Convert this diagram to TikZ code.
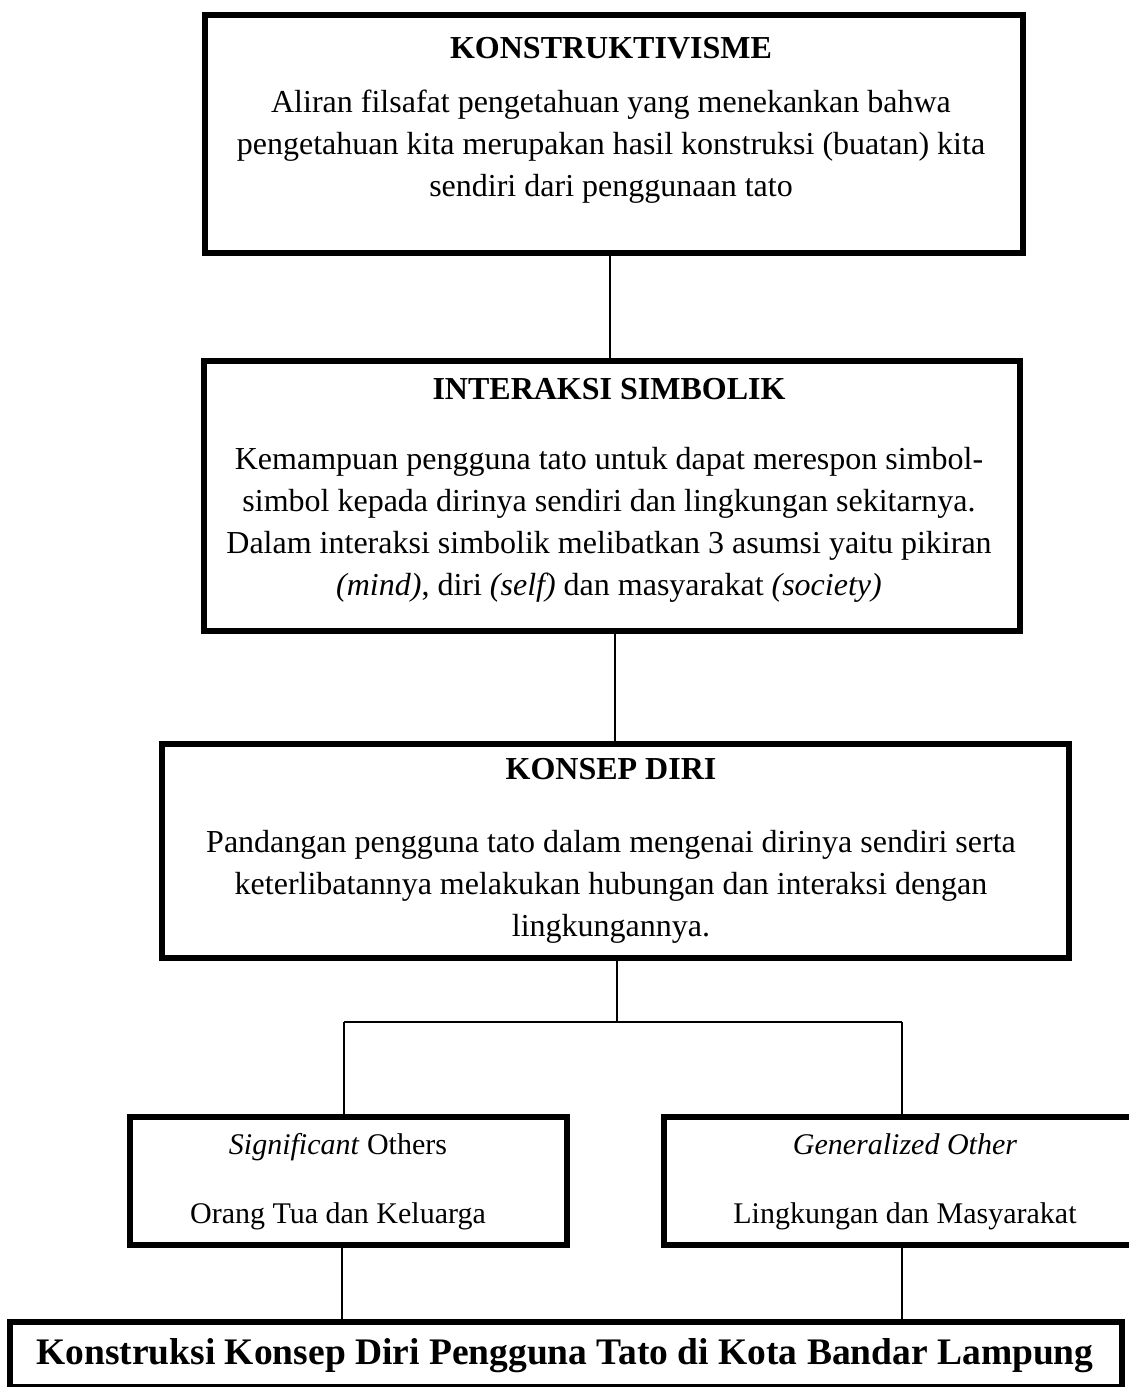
\documentclass[tikz,border=0pt]{standalone}
\usepackage{fontspec}
\setmainfont{Liberation Serif}
\begin{document}
\begin{tikzpicture}[x=0.5pt,y=-0.5pt,
  box/.style={draw=black,line width=3pt,inner sep=0pt,anchor=north west},
  conn/.style={draw=black,line width=0.8pt},
  txt/.style={inner sep=0pt,anchor=base,font=\fontsize{16}{21}\selectfont},
  ttl/.style={inner sep=0pt,anchor=base,font=\fontsize{16}{21}\selectfont\bfseries},
  sml/.style={inner sep=0pt,anchor=base,font=\fontsize{15}{21}\selectfont},
  big/.style={inner sep=0pt,anchor=base,font=\fontsize{18.75}{22}\selectfont\bfseries}]
\useasboundingbox (0,0) rectangle (1129,1387);
\begin{scope}
\clip (0,0) rectangle (1129,1387);
% boxes
\node[box,minimum width=409pt,minimum height=119pt] (b1) at (202,12) {};
\node[box,minimum width=408pt,minimum height=135pt] (b2) at (201,358) {};
\node[box,minimum width=453.5pt,minimum height=107pt] (b3) at (159,741) {};
\node[box,minimum width=218.5pt,minimum height=64pt] (bl) at (126.5,1113.5) {};
\node[box,minimum width=241pt,minimum height=64pt] (br) at (661,1113.5) {};
\node[box,minimum width=556pt,minimum height=32.75pt] (bb) at (7,1318.5) {};
\end{scope}
% texts box 1
\node[ttl] (t1) at (611,58) {KONSTRUKTIVISME};
\node[txt] (t1a) at (611,112) {Aliran filsafat pengetahuan yang menekankan bahwa};
\node[txt] (t1b) at (611,154) {pengetahuan kita merupakan hasil konstruksi (buatan) kita};
\node[txt] (t1c) at (611,196) {sendiri dari penggunaan tato};
% box 2
\node[ttl] (t2) at (609,399) {INTERAKSI SIMBOLIK};
\node[txt] (t2a) at (609,469) {Kemampuan pengguna tato untuk dapat merespon simbol-};
\node[txt] (t2b) at (609,511) {simbol kepada dirinya sendiri dan lingkungan sekitarnya.};
\node[txt] (t2c) at (609,553) {Dalam interaksi simbolik melibatkan 3 asumsi yaitu pikiran};
\node[txt] (t2d) at (609,595) {\textit{(mind)}, diri \textit{(self)} dan masyarakat \textit{(society)}};
% box 3
\node[ttl] (t3) at (611,779) {KONSEP DIRI};
\node[txt] (t3a) at (611,852) {Pandangan pengguna tato dalam mengenai dirinya sendiri serta};
\node[txt] (t3b) at (611,894) {keterlibatannya melakukan hubungan dan interaksi dengan};
\node[txt] (t3c) at (611,936) {lingkungannya.};
% lower boxes
\node[sml] (tla) at (338,1154) {\textit{Significant} Others};
\node[sml] (tlb) at (338,1223) {Orang Tua dan Keluarga};
\node[sml] (tra) at (905,1154) {\textit{Generalized Other}};
\node[sml] (trb) at (905,1223) {Lingkungan dan Masyarakat};
\node[big] (tbb) at (565,1364) {Konstruksi Konsep Diri Pengguna Tato di Kota Bandar Lampung};
% connectors
\coordinate (j) at (617,1022);
\coordinate (jl) at (344,1022);
\coordinate (jr) at (902,1022);
\draw[conn] (b1.south -| 610,0) -- (b2.north -| 610,0);
\draw[conn] (b2.south -| 615,0) -- (b3.north -| 615,0);
\draw[conn] (b3.south -| j) -- (j);
\draw[conn] (jl) -- (jr);
\draw[conn] (jl) -- (bl.north -| jl);
\draw[conn] (jr) -- (br.north -| jr);
\draw[conn] (bl.south -| 342,0) -- (bb.north -| 342,0);
\draw[conn] (br.south -| 902,0) -- (bb.north -| 902,0);
\end{tikzpicture}
\end{document}
